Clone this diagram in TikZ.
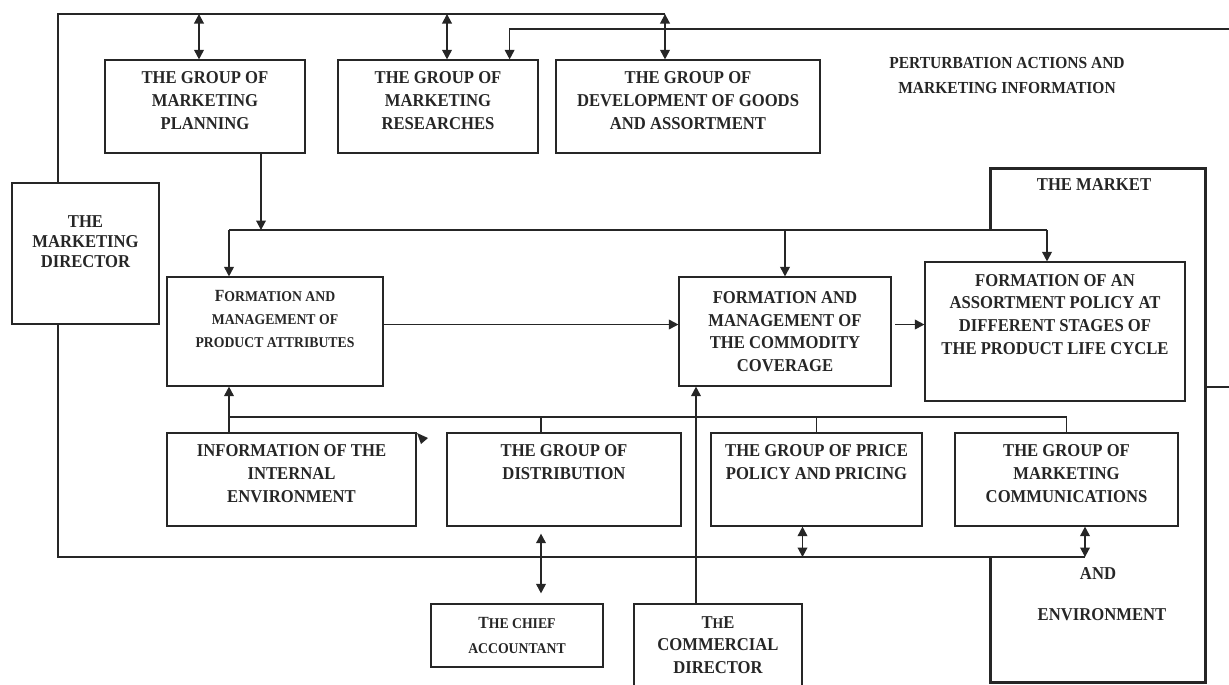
\documentclass[tikz,border=0pt]{standalone}
\usepackage{fontspec}
\setmainfont{Liberation Serif}[FakeStretch=0.92]
\usetikzlibrary{arrows.meta, calc}
\definecolor{ink}{HTML}{262626}
\newcommand{\smc}[1]{{\fontsize{8.5}{13}\selectfont #1}}

\begin{document}
\begin{tikzpicture}[
  x=0.02cm, y=-0.02cm, line cap=butt, line join=miter,
  font=\fontsize{10.3}{12.9}\selectfont\bfseries, text=ink,
  box/.style={draw=ink, line width=0.7pt, inner sep=0pt, align=center},
  sz/.style 2 args={minimum width=#1*0.02cm, minimum height=#2*0.02cm},
  link/.style={draw=ink, line width=0.7pt},
  arr/.style={link, -{Triangle[length=1.9mm, width=1.95mm]}},
  both/.style={link, {Triangle[length=1.9mm, width=1.95mm]}-{Triangle[length=1.9mm, width=1.95mm]}},
  mktline/.style={draw=ink, line width=1.7pt},
  lbl/.style={align=center},
]

\useasboundingbox (0,0) rectangle (1229,684);

% Groups on top
\node[box, sz={200}{93}, text depth=6.8pt] (plan) at (205,106.5) {THE GROUP OF\\MARKETING\\PLANNING};
\node[box, sz={200}{93}, text depth=6.8pt] (res) at (438,106.5) {THE GROUP OF\\MARKETING\\RESEARCHES};
\node[box, sz={264}{93}, text depth=6.8pt] (gds) at (688,106.5) {THE GROUP OF\\DEVELOPMENT OF GOODS\\AND ASSORTMENT};
\node[lbl, font=\fontsize{9.6}{14.2}\selectfont\bfseries] (pert) at (1007,75.5) {PERTURBATION ACTIONS AND\\MARKETING INFORMATION};

% Director and middle row
\node[box, sz={147}{141}, text depth=13.1pt, font=\fontsize{10.3}{11.4}\selectfont\bfseries] (dir) at (85.5,253.5) {THE\\MARKETING\\DIRECTOR};
\node[box, sz={216}{109}, text depth=14.8pt, font=\fontsize{9.7}{13.1}\selectfont\bfseries] (att) at (275,331.5)
  {F\smc{ORMATION AND}\\\smc{MANAGEMENT OF}\\\smc{PRODUCT ATTRIBUTES}};
\node[box, sz={212}{109}] (com) at (785,331.5) {FORMATION AND\\MANAGEMENT OF\\THE COMMODITY\\COVERAGE};
\node[box, sz={260}{139}, text depth=19.9pt] (asr) at (1055,331.5)
  {FORMATION OF AN\\ASSORTMENT POLICY AT\\DIFFERENT STAGES OF\\THE PRODUCT LIFE CYCLE};

% Lower row
\node[box, sz={249}{93}, text depth=6.8pt] (info) at (291.5,479.5) {INFORMATION OF THE\\INTERNAL\\ENVIRONMENT};
\node[box, sz={234}{93}, text depth=19.9pt] (dst) at (564,479.5) {THE GROUP OF\\DISTRIBUTION};
\node[box, sz={211}{93}, text depth=19.9pt] (prc) at (816.5,479.5) {THE GROUP OF PRICE\\POLICY AND PRICING};
\node[box, sz={223}{93}, text depth=6.8pt] (cmm) at (1066.5,479.5) {THE GROUP OF\\MARKETING\\COMMUNICATIONS};

% Bottom
\node[box, sz={172}{63}, font=\fontsize{9.7}{13.7}\selectfont\bfseries] (chief) at (517,635.5)
  {T\smc{HE CHIEF}\\\smc{ACCOUNTANT}};
\node[box, sz={168}{96}, text depth=8pt] (cdir) at (718,652) {T\smc{H}E\\COMMERCIAL\\DIRECTOR};

% Market
\coordinate (mnw) at (990,168);
\coordinate (mse) at (1205,682);
\node[lbl] (mkttop) at (1094,185) {THE MARKET};
\node[lbl] (mktand) at (1098,574) {AND};
\node[lbl] (mktenv) at (1102,615) {ENVIRONMENT};

% Loops of the director
\coordinate (tl) at (58,14);
\coordinate (tr) at (665,14);
\coordinate (bl) at (58,557);
\coordinate (br) at (1085,557);
\draw[link] (dir.north -| tl) -- (tl) -- (tr);
\coordinate (pa) at ($(plan.north)+(-6,0)$);
\draw[both] (pa |- tl) -- (pa);
\coordinate (ra) at ($(res.north)+(9,0)$);
\draw[both] (ra |- tl) -- (ra);
\draw[both] (tr) -- (tr |- gds.north);
\draw[link] (dir.south -| bl) -- (bl) -- (br);
\draw[both] (br) -- (br |- cmm.south);
\coordinate (pb) at ($(prc.south)+(-14,0)$);
\draw[both] (pb |- br) -- (pb);

% Perturbation input
\coordinate (pin) at (1229,29);
\coordinate (rb) at ($(res.north east)+(-29,0)$);
\draw[arr] (pin) -| (rb);

% Upper bus
\coordinate (bus) at (229,230);
\coordinate (pd) at ($(plan.south)+(56,0)$);
\coordinate (ad) at ($(asr.north)+(-8,0)$);
\draw[arr] (pd) -- (pd |- bus);
\draw[link] (bus) -- (ad |- bus);
\draw[arr] (bus) -- (bus |- att.north);
\draw[arr] (com.north |- bus) -- (com.north);
\draw[arr] (ad |- bus) -- (ad);

% Flow to the market
\draw[arr] ($(att.east)+(0,-7)$) -- ($(com.west)+(0,-7)$);
\draw[arr, shorten <=2pt] ($(com.east)+(0,-7)$) -- ($(asr.west)+(0,-7)$);

% Lower bus
\coordinate (lbus) at (229,417);
\coordinate (dd) at ($(dst.north)+(-23,0)$);
\draw[arr] (info.north -| lbus) -- (att.south -| lbus);
\draw[link] (lbus) -| (cmm.north);
\draw[link] (dd) -- (dd |- lbus);
\draw[link] (prc.north) -- (prc.north |- lbus);
\fill[ink] (417,433) -- (428,438) -- (421,444) -- cycle;

% Chief accountant and commercial director
\draw[both, shorten <=4pt, shorten >=5.7pt] (dd |- dst.south) -- (dd |- chief.north);
\coordinate (cd) at ($(cdir.north)+(-22,0)$);
\draw[arr] (cd) -- (cd |- com.south);

% Market frame
\draw[mktline] (mnw |- bus) -- (mnw) -| (mse) -| (mnw |- bl);
\coordinate (mout) at (1229,387);
\draw[link] (mout -| mse) -- (mout);

\end{tikzpicture}
\end{document}
